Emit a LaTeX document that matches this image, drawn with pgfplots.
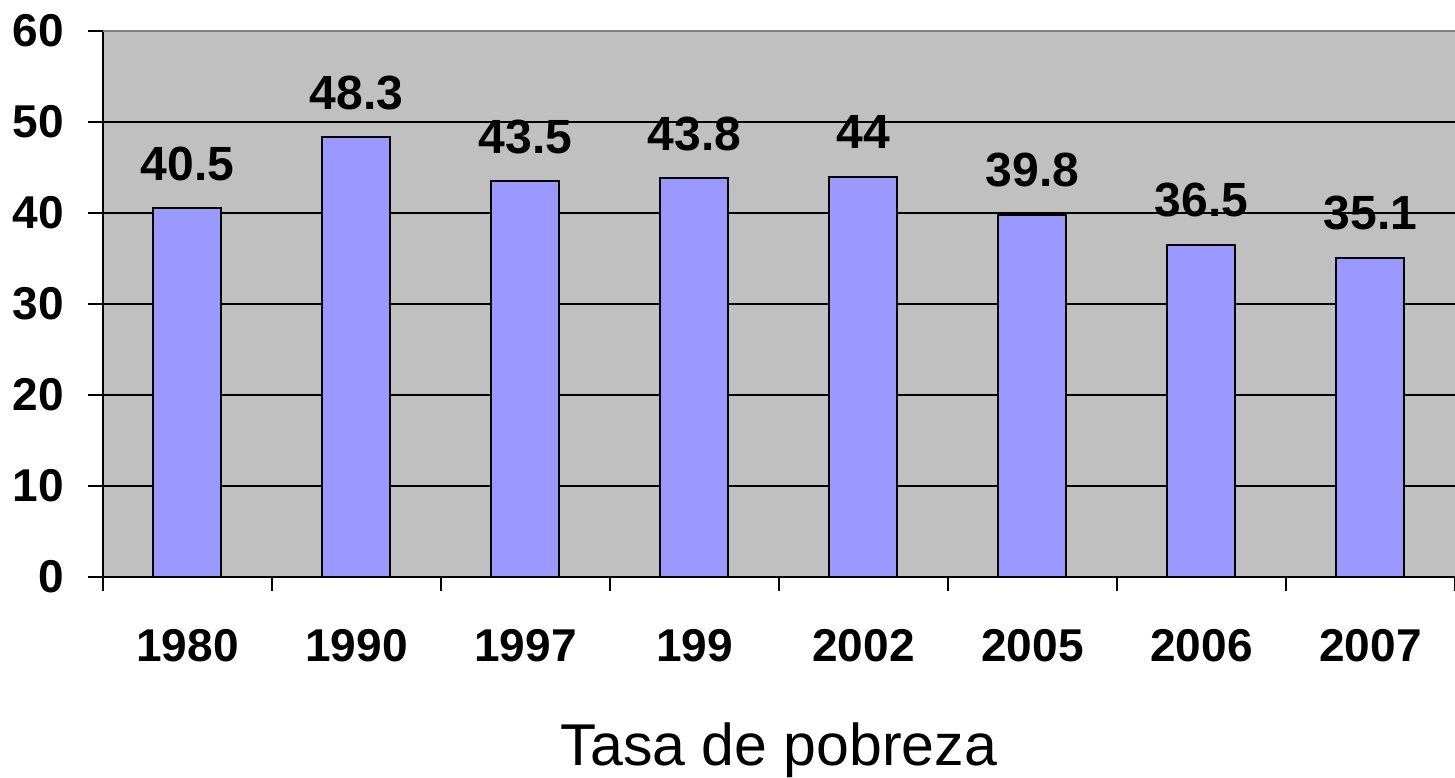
\documentclass[border=0pt]{standalone}
\usepackage{fontspec}
\setmainfont{Liberation Sans}
\usepackage{pgfplots}
\pgfplotsset{compat=1.18}
\definecolor{plotbg}{HTML}{C0C0C0}
\definecolor{barfill}{HTML}{9999FF}
\definecolor{frametop}{HTML}{808080}
\begin{document}
\begin{tikzpicture}
\begin{axis}[
  name=ax,
  scale only axis, width=676pt, height=273pt,
  xmin=-0.5, xmax=7.5, ymin=0, ymax=60,
  axis x line=bottom, axis y line=left,
  axis line style={-, black, line width=0.9pt},
  axis background/.style={fill=plotbg},
  ytick={0,10,...,60},
  ymajorgrids, major grid style={black, line width=0.9pt},
  xtick={0,...,7},
  xticklabels={1980,1990,1997,199,2002,2005,2006,2007},
  minor xtick={-0.5,0.5,...,7.5},
  tick align=outside,
  xtick style={draw=none},
  minor x tick style={draw=black, line width=0.7pt},
  minor tick length=7pt,
  ytick style={black, line width=0.9pt},
  major tick length=7.5pt,
  /pgf/number format/assume math mode=true,
  tick label style={font=\bfseries\fontsize{23}{23}\selectfont},
  yticklabel style={inner sep=0pt, anchor=east, xshift=-12pt},
  xticklabel style={inner sep=0pt, anchor=center, yshift=-27pt},
  xlabel={Tasa de pobreza},
  xlabel style={font=\fontsize{29.5}{29.5}\selectfont, inner sep=0pt, anchor=center, at={(rel axis cs:0.5,0)}, yshift=-86.5pt},
  ybar, bar width=34pt,
  nodes near coords,
  every node near coord/.append style={font=\bfseries\fontsize{24}{24}\selectfont, anchor=base, inner sep=0pt, yshift=14pt},
  clip=false,
]
\addplot[fill=barfill, draw=black, line width=1pt] coordinates {
  (0,40.5) (1,48.3) (2,43.5) (3,43.8) (4,44) (5,39.8) (6,36.5) (7,35.1)};
\end{axis}
\draw[frametop, line width=0.9pt] (ax.north west) -- (ax.north east);
\pgfresetboundingbox
\useasboundingbox (ax.south west) ++(-51.5pt,-100pt) rectangle ++(727.5pt,388.5pt);
\end{tikzpicture}
\end{document}
